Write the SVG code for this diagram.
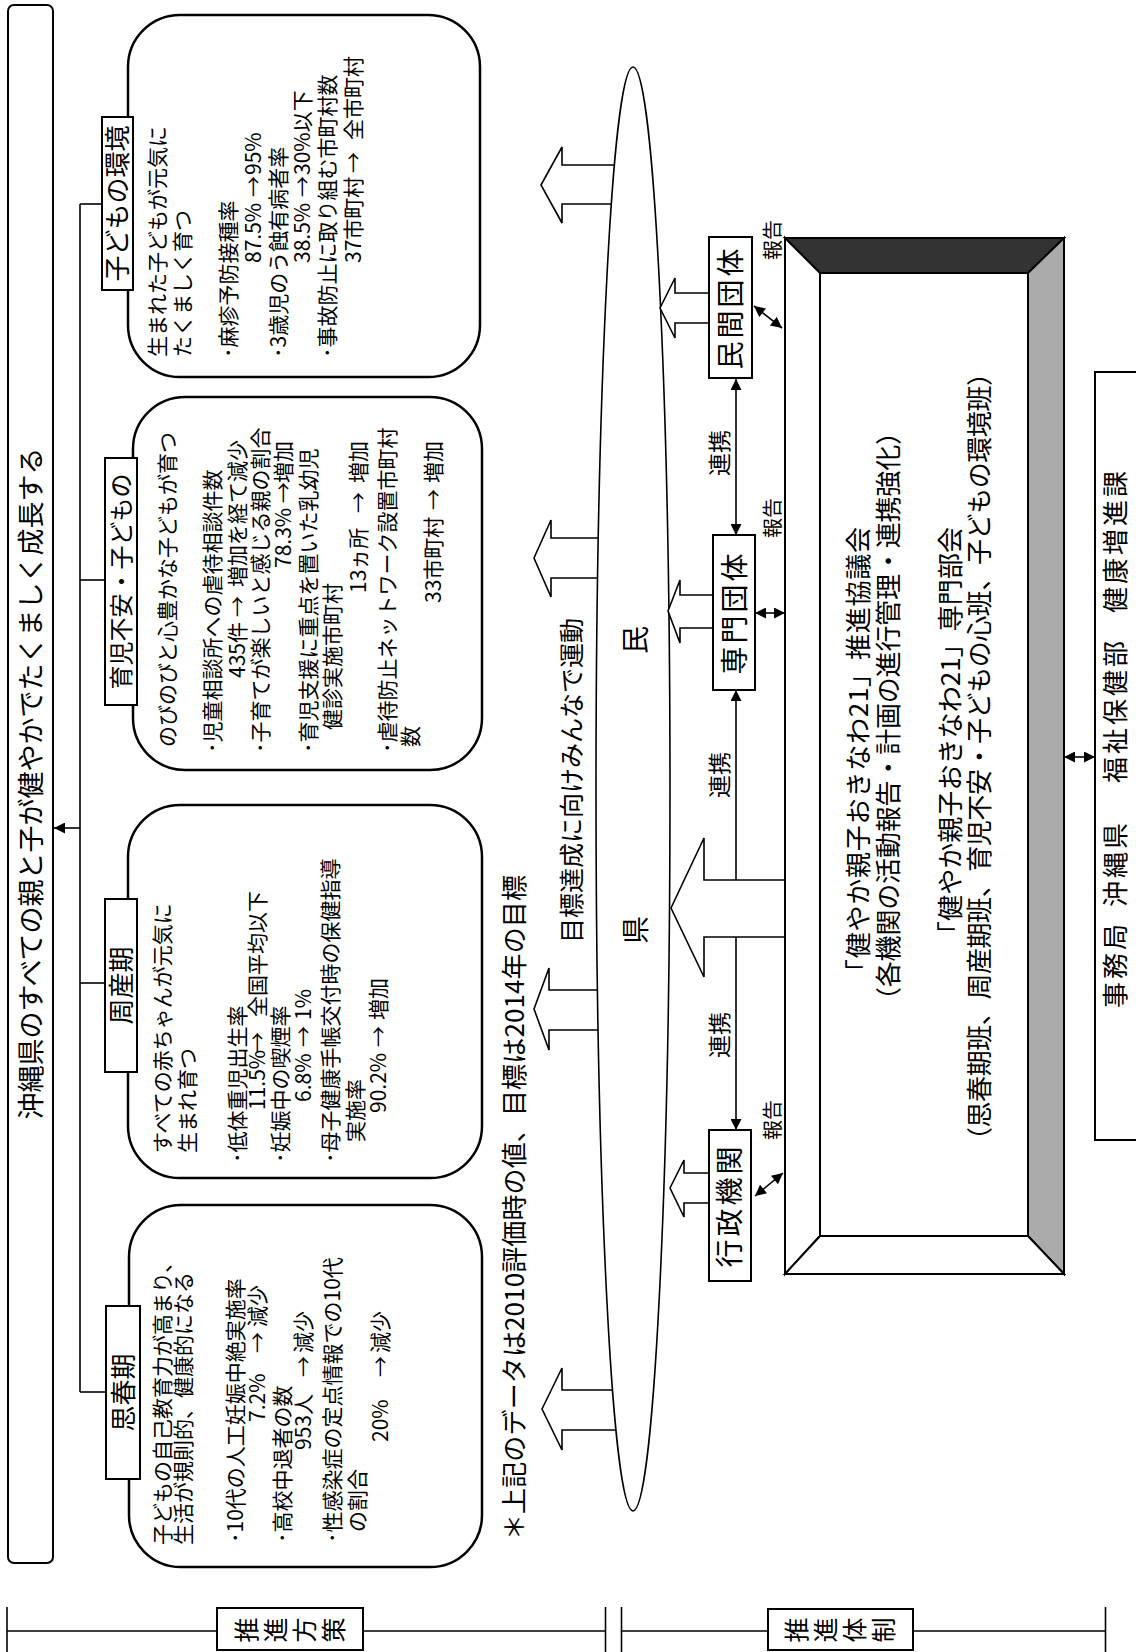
<svg xmlns="http://www.w3.org/2000/svg" width="1136" height="1652" viewBox="0 0 1136 1652">
<defs>
<style>
.t{font-family:"Noto Sans CJK JP","Noto Sans CJK SC",sans-serif;fill:#000}
.s21{font-size:21px}
.box{fill:#fff;stroke:#000;stroke-width:2.5}
.lbl{fill:#fff;stroke:#000;stroke-width:2}
.ln{fill:none;stroke:#000;stroke-width:1.6}
.blk{fill:#fff;stroke:#000;stroke-width:1.6;stroke-linejoin:miter}
.nd{fill:#fff;stroke:#000;stroke-width:2}
</style>
<marker id="ah" viewBox="0 0 10 10" refX="10" refY="5" markerWidth="13" markerHeight="11" markerUnits="userSpaceOnUse" orient="auto-start-reverse"><path d="M0,0 L10,5 L0,10 z" fill="#000"/></marker>
</defs>
<rect width="1136" height="1652" fill="#fff"/>

<g id="connectors">
  <line class="ln" x1="80" y1="204" x2="80" y2="1392"/>
  <line class="ln" x1="80" y1="204" x2="102" y2="204"/>
  <line class="ln" x1="80" y1="580" x2="105" y2="580"/>
  <line class="ln" x1="80" y1="983" x2="105" y2="983"/>
  <line class="ln" x1="80" y1="1392" x2="106" y2="1392"/>
  <line class="ln" x1="80" y1="828" x2="54" y2="828" marker-end="url(#ah)"/>
  <polygon class="blk" points="541,185 562,147 562,165 640,165 640,204 562,204 562,223"/>
  <polygon class="blk" points="534,558 551,520 551,538 640,538 640,578 551,578 551,597"/>
  <polygon class="blk" points="534,1009 549,968 549,990 640,990 640,1030 549,1030 549,1050"/>
  <polygon class="blk" points="542,1409 562,1368 562,1390 640,1390 640,1430 562,1430 562,1450"/>
  <line class="ln" x1="736" y1="535" x2="736" y2="379" marker-start="url(#ah)" marker-end="url(#ah)"/>
  <line class="ln" x1="736" y1="690" x2="736" y2="1130" marker-start="url(#ah)" marker-end="url(#ah)"/>
  <line class="ln" x1="754" y1="306" x2="782" y2="328" marker-start="url(#ah)" marker-end="url(#ah)"/>
  <line class="ln" x1="755" y1="613" x2="785" y2="613" marker-start="url(#ah)" marker-end="url(#ah)"/>
  <line class="ln" x1="755" y1="1196" x2="783" y2="1173" marker-start="url(#ah)" marker-end="url(#ah)"/>
  <line class="ln" x1="1064" y1="757" x2="1095" y2="757" marker-start="url(#ah)" marker-end="url(#ah)"/>
</g>

<g id="title">
  <rect x="8" y="5" width="45" height="1558" rx="6" class="lbl"/>
  <g transform="matrix(0,-1,1,0,0,1652)"><text class="t" x="868.5" y="41" font-size="27" text-anchor="middle">沖縄県のすべての親と子が健やかでたくましく成長する</text></g>
</g>

<g id="box-kodomo">
  <rect x="128" y="15" width="352" height="362" rx="52" class="box"/>
  <rect x="102" y="117" width="31" height="173" class="lbl"/>
  <g transform="matrix(0,-1,1,0,0,1652)" class="t s21">
    <text x="1448.5" y="127" font-size="26" text-anchor="middle">子どもの環境</text>
    <text x="1295" y="165">生まれた子どもが元気に</text>
    <text x="1295" y="190">たくましく育つ</text>
    <text x="1294" y="236">･麻疹予防接種率</text>
    <text y="261"><tspan x="1389">87.5%</tspan><tspan x="1455">→</tspan><tspan x="1477">95%</tspan></text>
    <text x="1294" y="286">･3歳児のう蝕有病者率</text>
    <text y="310"><tspan x="1389">38.5%</tspan><tspan x="1455">→</tspan><tspan x="1477">30%以下</tspan></text>
    <text x="1294" y="335">･事故防止に取り組む市町村数</text>
    <text y="361"><tspan x="1389">37市町村</tspan><tspan x="1479">→</tspan><tspan x="1512">全市町村</tspan></text>
  </g>
</g>

<g id="box-ikuji">
  <rect x="133" y="397" width="349" height="373" rx="52" class="box"/>
  <rect x="105" y="458" width="32" height="247" class="lbl"/>
  <g transform="matrix(0,-1,1,0,0,1652)" class="t s21">
    <text x="1070.5" y="130" font-size="24" text-anchor="middle">育児不安・子どもの</text>
    <text x="905" y="175">のびのびと心豊かな子どもが育つ</text>
    <text x="899" y="220">･児童相談所への虐待相談件数</text>
    <text y="245"><tspan x="974">435件</tspan><tspan x="1035">→</tspan><tspan x="1065">増加を経て減少</tspan></text>
    <text x="899" y="268">･子育てが楽しいと感じる親の割合</text>
    <text y="291"><tspan x="1084">78.3%</tspan><tspan x="1149">→</tspan><tspan x="1169">増加</tspan></text>
    <text x="899" y="316">･育児支援に重点を置いた乳幼児</text>
    <text x="922" y="340">健診実施市町村</text>
    <text y="366"><tspan x="1059">13ヵ所</tspan><tspan x="1139">→</tspan><tspan x="1169">増加</tspan></text>
    <text x="899" y="395">･虐待防止ネットワーク設置市町村</text>
    <text x="905" y="418">数</text>
    <text y="441"><tspan x="1049">33市町村</tspan><tspan x="1142">→</tspan><tspan x="1169">増加</tspan></text>
  </g>
</g>

<g id="box-shusanki">
  <rect x="128" y="805" width="354" height="373" rx="52" class="box"/>
  <rect x="105" y="899" width="32" height="173" class="lbl"/>
  <g transform="matrix(0,-1,1,0,0,1652)" class="t s21">
    <text x="666.5" y="131" font-size="26" text-anchor="middle">周産期</text>
    <text x="499" y="170">すべての赤ちゃんが元気に</text>
    <text x="499" y="195">生まれ育つ</text>
    <text x="489" y="245">･低体重児出生率</text>
    <text y="265"><tspan x="542">11.5%</tspan><tspan x="599">→</tspan><tspan x="635">全国平均以下</tspan></text>
    <text x="489" y="288">･妊娠中の喫煙率</text>
    <text y="311"><tspan x="550">6.8%</tspan><tspan x="605">→</tspan><tspan x="632">1%</tspan></text>
    <text x="489" y="338">･母子健康手帳交付時の保健指導</text>
    <text x="510" y="363">実施率</text>
    <text y="386"><tspan x="539">90.2%</tspan><tspan x="605">→</tspan><tspan x="632">増加</tspan></text>
  </g>
</g>

<g id="box-shishunki">
  <rect x="129" y="1205" width="353" height="362" rx="52" class="box"/>
  <rect x="106" y="1306" width="34" height="173" class="lbl"/>
  <g transform="matrix(0,-1,1,0,0,1652)" class="t s21">
    <text x="259.5" y="133" font-size="26" text-anchor="middle">思春期</text>
    <text x="107" y="170">子どもの自己教育力が高まり、</text>
    <text x="107" y="191">生活が規則的、健康的になる</text>
    <text x="109" y="243">･10代の人工妊娠中絶実施率</text>
    <text y="265"><tspan x="230">7.2%</tspan><tspan x="299">→</tspan><tspan x="325">減少</tspan></text>
    <text x="109" y="290">･高校中退者の数</text>
    <text y="311"><tspan x="202">953人</tspan><tspan x="275">→</tspan><tspan x="299">減少</tspan></text>
    <text x="109" y="340">･性感染症の定点情報での10代</text>
    <text x="120" y="365">の割合</text>
    <text y="388"><tspan x="210">20%</tspan><tspan x="275">→</tspan><tspan x="299">減少</tspan></text>
  </g>
</g>

<g id="ellipse-kenmin">
  <ellipse cx="633" cy="789" rx="37" ry="722" fill="#fff" stroke="#000" stroke-width="1.6"/>
  <g transform="matrix(0,-1,1,0,0,1652)" class="t" font-size="28">
    <text x="708" y="646">県</text>
    <text x="998" y="646">民</text>
  </g>
</g>

<g id="arrows-right">
  <polygon class="blk" points="671,908 704,838 704,880 786,880 786,937 704,937 704,977"/>
  <polygon class="blk" points="660,308 675,278 675,293 710,293 710,323 675,323 675,338"/>
  <polygon class="blk" points="668,611 680,580 680,595 714,595 714,628 680,628 680,643"/>
  <polygon class="blk" points="670,1188 684,1160 684,1173 710,1173 710,1203 684,1203 684,1217"/>
</g>

<g id="node-minkan">
  <rect x="709" y="237" width="43" height="141" class="nd"/>
  <g transform="matrix(0,-1,1,0,0,1652)"><text class="t" x="1344.5" y="741" font-size="28" letter-spacing="3" text-anchor="middle">民間団体</text></g>
</g>
<g id="node-senmon">
  <rect x="713" y="535" width="42" height="155" class="nd"/>
  <g transform="matrix(0,-1,1,0,0,1652)"><text class="t" x="1039.5" y="745" font-size="28" letter-spacing="3" text-anchor="middle">専門団体</text></g>
</g>
<g id="node-gyosei">
  <rect x="709" y="1130" width="42" height="151" class="nd"/>
  <g transform="matrix(0,-1,1,0,0,1652)"><text class="t" x="446.5" y="740" font-size="28" letter-spacing="3" text-anchor="middle">行政機関</text></g>
</g>

<g id="labels" class="t">
  <g transform="matrix(0,-1,1,0,0,1652)">
    <text x="1199" y="728" font-size="23" text-anchor="middle">連携</text>
    <text x="877" y="728" font-size="23" text-anchor="middle">連携</text>
    <text x="617" y="728" font-size="23" text-anchor="middle">連携</text>
    <text x="1412" y="780" font-size="20" text-anchor="middle">報告</text>
    <text x="1134" y="780" font-size="20" text-anchor="middle">報告</text>
    <text x="532" y="780" font-size="20" text-anchor="middle">報告</text>
    <text x="709" y="581" font-size="25">目標達成に向けみんなで運動</text>
    <text x="112" y="524" font-size="26" textLength="665" lengthAdjust="spacing">＊上記のデータは2010評価時の値、目標は2014年の目標</text>
  </g>
</g>

<g id="council">
  <polygon points="785,238 1064,238 1028,273 820,273" fill="#333" stroke="#000" stroke-width="2"/>
  <polygon points="1064,238 1064,1274 1028,1236 1028,273" fill="#ababab" stroke="#000" stroke-width="2"/>
  <polygon points="785,238 820,273 820,1236 785,1274" fill="#fff" stroke="#000" stroke-width="2"/>
  <polygon points="785,1274 1064,1274 1028,1236 820,1236" fill="#fff" stroke="#000" stroke-width="2"/>
  <g transform="matrix(0,-1,1,0,0,1652)" class="t" font-size="26">
    <text x="667" y="868" textLength="458" lengthAdjust="spacing">「健やか親子おきなわ21」推進協議会</text>
    <text x="639" y="898" textLength="594" lengthAdjust="spacing">（各機関の活動報告・計画の進行管理・連携強化）</text>
    <text x="705" y="960" textLength="420" lengthAdjust="spacing">「健やか親子おきなわ21」専門部会</text>
    <text x="499" y="989" textLength="793" lengthAdjust="spacing">（思春期班、周産期班、育児不安・子どもの心班、子どもの環境班）</text>
  </g>
</g>

<g id="secretariat">
  <rect x="1095" y="372" width="60" height="768" class="nd"/>
  <g transform="matrix(0,-1,1,0,0,1652)"><text class="t" y="1125" font-size="26" letter-spacing="3"><tspan x="644">事務局</tspan><tspan x="745">沖縄県</tspan><tspan x="869">福祉保健部</tspan><tspan x="1039">健康増進課</tspan></text></g>
</g>

<g id="brackets">
  <line class="ln" x1="7" y1="1631" x2="217" y2="1631"/>
  <line class="ln" x1="363" y1="1631" x2="605.5" y2="1631"/>
  <line class="ln" x1="621.5" y1="1631" x2="768" y2="1631"/>
  <line class="ln" x1="913" y1="1631" x2="1105.5" y2="1631"/>
  <line class="ln" x1="7" y1="1607" x2="7" y2="1652"/>
  <line class="ln" x1="605.5" y1="1607" x2="605.5" y2="1652"/>
  <line class="ln" x1="621.5" y1="1607" x2="621.5" y2="1652"/>
  <line class="ln" x1="1105.5" y1="1607" x2="1105.5" y2="1652"/>
</g>
<g id="label-hosaku">
  <rect x="217" y="1608" width="146" height="42" class="lbl"/>
  <g transform="matrix(0,-1,1,0,0,1652)" class="t" font-size="25" text-anchor="middle">
    <text x="22" y="256">推</text><text x="22" y="285">進</text><text x="22" y="314">方</text><text x="22" y="343">策</text>
  </g>
</g>
<g id="label-taisei">
  <rect x="768" y="1609" width="145" height="41" class="lbl"/>
  <g transform="matrix(0,-1,1,0,0,1652)" class="t" font-size="25" text-anchor="middle">
    <text x="22" y="806">推</text><text x="22" y="835">進</text><text x="22" y="864">体</text><text x="22" y="893">制</text>
  </g>
</g>
</svg>
